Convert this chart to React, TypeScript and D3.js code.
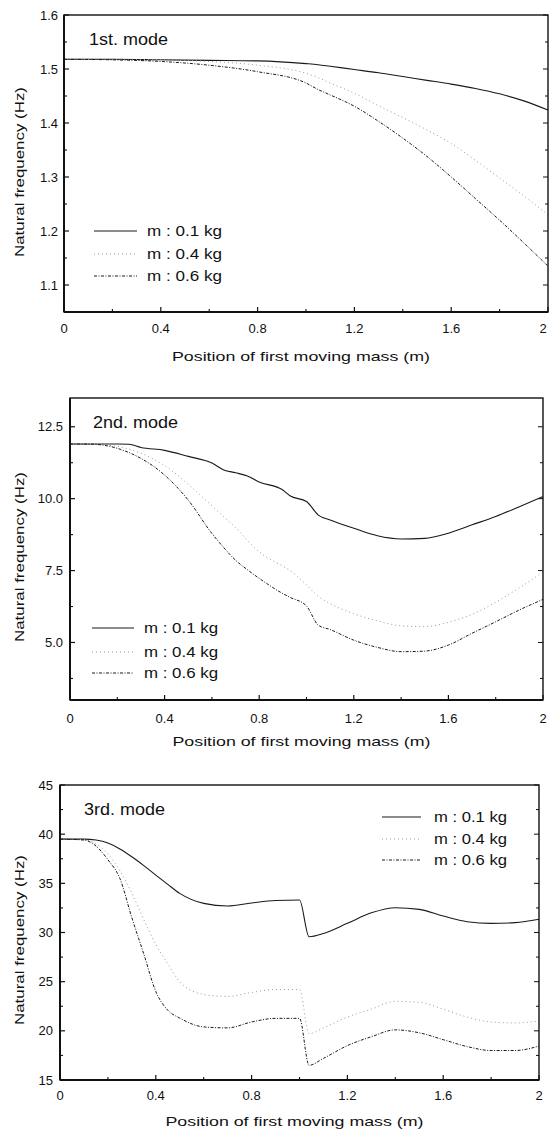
import React from "react";
import * as d3 from "d3";

// ---------- Data ----------
const xTickValues = [0, 0.4, 0.8, 1.2, 1.6, 2];
const xTickLabels = ["0", "0.4", "0.8", "1.2", "1.6", "2"];
const xMinorValues = [0.2, 0.6, 1.0, 1.4, 1.8];

const massLabels = ["m : 0.1 kg", "m : 0.4 kg", "m : 0.6 kg"];
const modeLabels = ["1st. mode", "2nd. mode", "3rd. mode"];

// Mode 1
const mode1X = [0, 0.2, 0.4, 0.6, 0.8, 1.0, 1.05, 1.1, 1.2, 1.3, 1.4, 1.5, 1.6, 1.7, 1.8, 1.9, 2.0];
const mode1M01 = [1.518, 1.518, 1.517, 1.516, 1.515, 1.51, 1.508, 1.505, 1.499, 1.493, 1.486, 1.479, 1.472, 1.464, 1.454, 1.441, 1.424];
const mode1M04 = [1.518, 1.518, 1.517, 1.514, 1.507, 1.492, 1.484, 1.474, 1.455, 1.432, 1.41, 1.387, 1.362, 1.331, 1.298, 1.265, 1.23];
const mode1M06 = [1.518, 1.517, 1.514, 1.507, 1.495, 1.474, 1.462, 1.452, 1.431, 1.403, 1.372, 1.338, 1.3, 1.26, 1.22, 1.178, 1.135];
const mode1YTicks = [1.1, 1.2, 1.3, 1.4, 1.5, 1.6];
const mode1YMinor = [1.15, 1.25, 1.35, 1.45, 1.55];

// Mode 2
const mode2X = [0, 0.1, 0.2, 0.25, 0.3, 0.4, 0.5, 0.6, 0.65, 0.7, 0.75, 0.8, 0.9, 0.93, 1.0, 1.05, 1.1, 1.2, 1.3, 1.4, 1.5, 1.6, 1.7, 1.8, 1.9, 2.0];
const mode2M01 = [11.9, 11.9, 11.9, 11.89, 11.78, 11.68, 11.47, 11.24, 11.0, 10.9, 10.79, 10.58, 10.3, 10.1, 9.9, 9.43, 9.26, 8.97, 8.71, 8.6, 8.62, 8.8, 9.09, 9.38, 9.72, 10.07];
const mode2M04 = [11.9, 11.89, 11.82, 11.72, 11.58, 11.15, 10.5, 9.75, 9.37, 9.0, 8.55, 8.15, 7.65, 7.5, 7.0, 6.6, 6.35, 6.0, 5.75, 5.58, 5.55, 5.7, 5.98, 6.4, 6.9, 7.45];
const mode2M06 = [11.9, 11.89, 11.75, 11.6, 11.4, 10.82, 9.95, 8.79, 8.3, 7.86, 7.53, 7.23, 6.7, 6.57, 6.27, 5.6, 5.45, 5.08, 4.83, 4.68, 4.7, 4.91, 5.32, 5.72, 6.13, 6.5];
const mode2YTicks = [5.0, 7.5, 10.0, 12.5];
const mode2YMinor = [3.75, 6.25, 8.75, 11.25];

// Mode 3
const mode3X = [0, 0.1, 0.15, 0.2, 0.25, 0.3, 0.35, 0.4, 0.45, 0.5, 0.6, 0.7, 0.8, 0.9, 1.0, 1.04, 1.1, 1.2, 1.3, 1.4, 1.5, 1.6, 1.7, 1.8, 1.9, 2.0];
const mode3M01 = [39.5, 39.5, 39.4, 39.1, 38.5, 37.7, 36.8, 35.84, 34.9, 33.98, 32.96, 32.69, 33.0, 33.25, 33.3, 29.57, 29.9, 30.93, 32.0, 32.52, 32.35, 31.67, 31.1, 30.93, 31.0, 31.34];
const mode3M04 = [39.5, 39.45, 39.0, 38.0, 36.3, 34.0, 31.3, 28.8, 26.8, 25.0, 23.7, 23.5, 23.9, 24.2, 24.2, 19.7, 20.3, 21.4, 22.2, 23.0, 22.9, 22.2, 21.4, 20.9, 20.8, 21.0];
const mode3M06 = [39.5, 39.4, 38.8, 37.4, 35.5, 31.5, 27.8, 24.0, 22.1, 21.3, 20.4, 20.3, 20.9, 21.27, 21.27, 16.5, 17.2, 18.5, 19.4, 20.1, 19.8, 19.1, 18.4, 18.0, 18.0, 18.45];
const mode3YTicks = [15, 20, 25, 30, 35, 40, 45];
const mode3YMinor = [17.5, 22.5, 27.5, 32.5, 37.5, 42.5];

// ---------- Layout / style ----------
const FONT = "'Liberation Sans', Arial, Helvetica, sans-serif";
const seriesStyles = [
  { stroke: "#1a1a1a", width: 1.1, dash: "none" },
  { stroke: "#9a9a9a", width: 1, dash: "1 3" },
  { stroke: "#1a1a1a", width: 1, dash: "3 1.5 1 1.5" },
];

const panels = [
  {
    left: 64, right: 548, top: 15, bottom: 312, domain: [1.05, 1.6],
    x: mode1X, series: [mode1M01, mode1M04, mode1M06],
    yTicks: mode1YTicks, yMinor: mode1YMinor, fmt: d3.format(".1f"),
    yLabelEnd: 58, xLabelOff: 21, xTitleY: 361, yTitleY: 172,
    mode: { x: 89, y: 45, w: 79 },
    legend: { x1: 94, x2: 137, tx: 147, rows: [231, 254, 276], w: 75 },
  },
  {
    left: 70, right: 543, top: 398, bottom: 700, domain: [3, 13.5],
    x: mode2X, series: [mode2M01, mode2M04, mode2M06],
    yTicks: mode2YTicks, yMinor: mode2YMinor, fmt: d3.format(".1f"),
    yLabelEnd: 63, xLabelOff: 23, xTitleY: 746, yTitleY: 557,
    mode: { x: 93, y: 428, w: 85 },
    legend: { x1: 92, x2: 134, tx: 144, rows: [628, 652, 673], w: 74 },
  },
  {
    left: 60, right: 539, top: 785, bottom: 1080, domain: [15, 45],
    x: mode3X, series: [mode3M01, mode3M04, mode3M06],
    yTicks: mode3YTicks, yMinor: mode3YMinor, fmt: d3.format("d"),
    yLabelEnd: 53, xLabelOff: 20, xTitleY: 1126, yTitleY: 940,
    mode: { x: 84, y: 815, w: 81 },
    legend: { x1: 382, x2: 421, tx: 434, rows: [817, 839, 860], w: 73 },
  },
];

function Panel({ p, idx }: { p: any; idx: number }) {
  const xs = d3.scaleLinear().domain([0, 2]).range([p.left, p.right]);
  const ys = d3.scaleLinear().domain(p.domain).range([p.bottom, p.top]);
  const line = d3
    .line<number>()
    .x((_, i) => xs(p.x[i]))
    .y((d) => ys(d))
    .curve(d3.curveMonotoneX);
  const major = 5;
  const minor = 3;
  return (
    <g>
      {p.series.map((s: number[], i: number) => (
        <path
          key={i}
          d={line(s) || ""}
          fill="none"
          stroke={seriesStyles[i].stroke}
          strokeWidth={seriesStyles[i].width}
          strokeDasharray={seriesStyles[i].dash}
        />
      ))}
      <rect
        x={p.left}
        y={p.top}
        width={p.right - p.left}
        height={p.bottom - p.top}
        fill="none"
        stroke="#111"
        strokeWidth={1.4}
      />
      <line x1={p.left} x2={p.right} y1={p.bottom} y2={p.bottom} stroke="#111" strokeWidth={2} />
      <line x1={p.left} x2={p.left} y1={p.top} y2={p.bottom} stroke="#111" strokeWidth={2} />
      {xTickValues.map((v, i) => (
        <g key={"xt" + i}>
          <line x1={xs(v)} x2={xs(v)} y1={p.bottom} y2={p.bottom - major} stroke="#111" strokeWidth={1.2} />
          <text
            x={Math.min(xs(v), 543)}
            y={p.bottom + p.xLabelOff}
            textAnchor="middle"
            fontFamily={FONT}
            fontSize={13}
            fill="#111"
          >
            {xTickLabels[i]}
          </text>
        </g>
      ))}
      {xMinorValues.map((v, i) => (
        <line key={"xm" + i} x1={xs(v)} x2={xs(v)} y1={p.bottom} y2={p.bottom - minor} stroke="#111" strokeWidth={1.1} />
      ))}
      {p.yTicks.map((v: number, i: number) => (
        <g key={"yt" + i}>
          <line x1={p.left} x2={p.left + major} y1={ys(v)} y2={ys(v)} stroke="#111" strokeWidth={1.2} />
          <line x1={p.right} x2={p.right - major} y1={ys(v)} y2={ys(v)} stroke="#111" strokeWidth={1} />
          <text
            x={p.yLabelEnd}
            y={ys(v) + 4.5}
            textAnchor="end"
            fontFamily={FONT}
            fontSize={13}
            fill="#111"
          >
            {p.fmt(v)}
          </text>
        </g>
      ))}
      {p.yMinor.map((v: number, i: number) => (
        <g key={"ym" + i}>
          <line x1={p.left} x2={p.left + minor} y1={ys(v)} y2={ys(v)} stroke="#111" strokeWidth={1.1} />
          <line x1={p.right} x2={p.right - minor} y1={ys(v)} y2={ys(v)} stroke="#111" strokeWidth={1} />
        </g>
      ))}
      <text
        x={p.mode.x}
        y={p.mode.y}
        fontFamily={FONT}
        fontSize={16}
        textLength={p.mode.w}
        lengthAdjust="spacingAndGlyphs"
        fill="#111"
      >
        {modeLabels[idx]}
      </text>
      {massLabels.map((lab, i) => (
        <g key={"lg" + i}>
          <line
            x1={p.legend.x1}
            x2={p.legend.x2}
            y1={p.legend.rows[i]}
            y2={p.legend.rows[i]}
            stroke={seriesStyles[i].stroke}
            strokeWidth={seriesStyles[i].width}
            strokeDasharray={seriesStyles[i].dash}
          />
          <text
            x={p.legend.tx}
            y={p.legend.rows[i] + 5}
            fontFamily={FONT}
            fontSize={14}
            textLength={p.legend.w}
            lengthAdjust="spacingAndGlyphs"
            fill="#111"
          >
            {lab}
          </text>
        </g>
      ))}
      <text
        x={(p.left + p.right) / 2 - 5}
        y={p.xTitleY}
        textAnchor="middle"
        fontFamily={FONT}
        fontSize={13.5}
        textLength={258}
        lengthAdjust="spacingAndGlyphs"
        fill="#111"
      >
        Position of first moving mass (m)
      </text>
      <text
        transform={`translate(24,${p.yTitleY}) rotate(-90)`}
        textAnchor="middle"
        fontFamily={FONT}
        fontSize={13.5}
        textLength={170}
        lengthAdjust="spacingAndGlyphs"
        fill="#111"
      >
        Natural frequency (Hz)
      </text>
    </g>
  );
}

export default function App() {
  return (
    <svg
      width={550}
      height={1132}
      viewBox="0 0 550 1132"
      style={{ position: "absolute", left: 0, top: 0, background: "#fff" }}
    >
      <rect x={0} y={0} width={550} height={1132} fill="#fff" />
      {panels.map((p, i) => (
        <Panel key={i} p={p} idx={i} />
      ))}
    </svg>
  );
}
